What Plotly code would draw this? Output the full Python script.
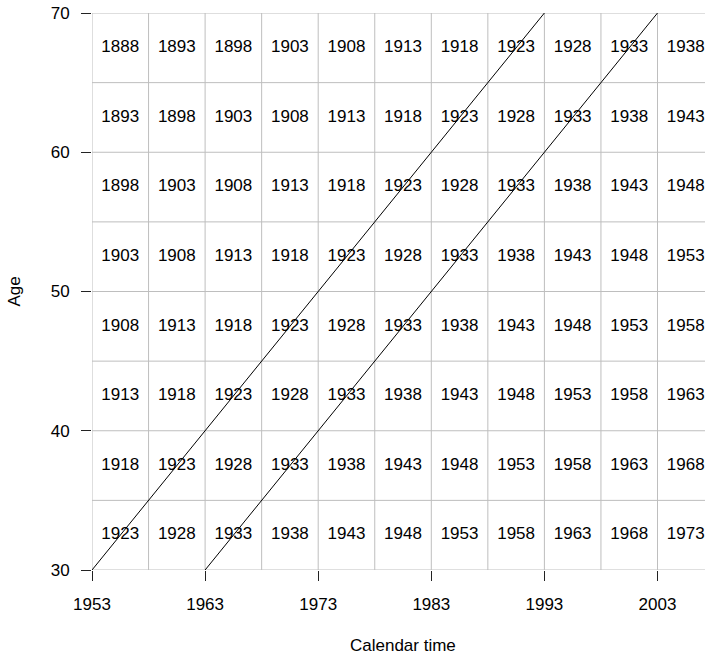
import plotly.graph_objects as go

# Lexis grid: 5-year calendar periods by 5-year age bands
period_starts = [1953, 1958, 1963, 1968, 1973, 1978, 1983, 1988, 1993, 1998, 2003]
age_starts = [30, 35, 40, 45, 50, 55, 60, 65]
period_edges = period_starts + [2008]
age_edges = age_starts + [70]

# Cohort lines (birth cohorts 1923 and 1933 followed from age 30 to 70)
cohort_a_x = [1953, 1993]
cohort_a_y = [30, 70]
cohort_b_x = [1963, 2003]
cohort_b_y = [30, 70]

x_ticks = [1953, 1963, 1973, 1983, 1993, 2003]
y_ticks = [30, 40, 50, 60, 70]

FONT = "Liberation Sans, Arial, sans-serif"
GRID = "#bebebe"

fig = go.Figure()

# grid lines
shapes = []
for x in period_edges:
    shapes.append(dict(type="line", xref="x", yref="y", x0=x, x1=x,
                       y0=age_edges[0], y1=age_edges[-1],
                       line=dict(color=GRID, width=1), layer="below"))
for y in age_edges:
    shapes.append(dict(type="line", xref="x", yref="y", x0=period_edges[0],
                       x1=period_edges[-1], y0=y, y1=y,
                       line=dict(color=GRID, width=1), layer="below"))

# cohort label in every cell: birth year of the cell's lower-left corner
cx, cy, ct = [], [], []
for a in age_starts:
    for p in period_starts:
        cx.append(p + 2.5)
        cy.append(a + 2.5)
        ct.append(str(p - a))

fig.add_trace(go.Scatter(x=cx, y=cy, text=ct, mode="text",
                         textfont=dict(family=FONT, size=17, color="black"),
                         hoverinfo="skip", cliponaxis=True))

for xs, ys in [(cohort_a_x, cohort_a_y), (cohort_b_x, cohort_b_y)]:
    fig.add_trace(go.Scatter(x=xs, y=ys, mode="lines",
                             line=dict(color="black", width=1),
                             hoverinfo="skip", cliponaxis=True))

fig.update_layout(
    width=705, height=655,
    margin=dict(l=92, r=0, t=13, b=85),
    paper_bgcolor="white", plot_bgcolor="white",
    showlegend=False,
    shapes=shapes,
    font=dict(family=FONT, size=17, color="black"),
    xaxis=dict(range=[1953, 2007.2], tickvals=x_ticks, showgrid=False,
               zeroline=False, showline=False, ticks="outside", ticklen=10,
               tickcolor="#222", tickwidth=1, ticklabelstandoff=9,
               tickfont=dict(family=FONT, size=17, color="black")),
    yaxis=dict(range=[30, 70], tickvals=y_ticks, showgrid=False,
               zeroline=False, showline=False, ticks="outside", ticklen=10,
               tickcolor="#222", tickwidth=1, ticklabelstandoff=8,
               tickfont=dict(family=FONT, size=17, color="black")),
    annotations=[
        dict(text="Calendar time", x=1980.5, xref="x", y=0, yref="paper",
             yanchor="middle", yshift=-75, showarrow=False,
             font=dict(family=FONT, size=17, color="black")),
        dict(text="Age", x=0, xref="paper", y=0.5, yref="paper",
             xanchor="center", xshift=-78, textangle=-90, showarrow=False,
             font=dict(family=FONT, size=17, color="black")),
    ],
)

fig.write_html("out.html")
